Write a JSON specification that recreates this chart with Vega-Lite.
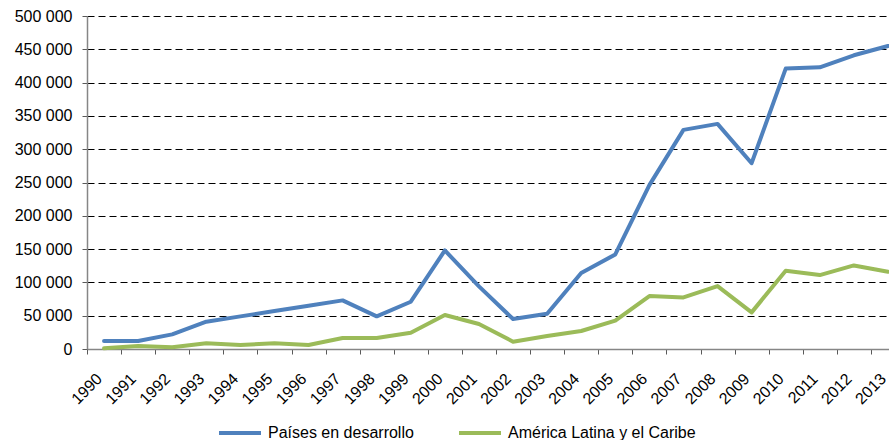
{
  "$schema": "https://vega.github.io/schema/vega-lite/v6.json",
  "width": 802,
  "height": 333,
  "autosize": {"type": "none"},
  "padding": {"left": 87, "top": 16, "right": 0, "bottom": 91},
  "background": "white",
  "config": {
    "view": {"stroke": null},
    "font": "Liberation Sans",
    "axis": {"labelFont": "Liberation Sans", "labelFontSize": 16, "labelColor": "#000000", "title": null},
    "legend": {"labelFont": "Liberation Sans", "labelFontSize": 16, "labelColor": "#000000"}
  },
  "data": {
    "values": [
      {"year": "1990", "serie": "Países en desarrollo", "value": 12000},
      {"year": "1991", "serie": "Países en desarrollo", "value": 12000},
      {"year": "1992", "serie": "Países en desarrollo", "value": 22000},
      {"year": "1993", "serie": "Países en desarrollo", "value": 41000},
      {"year": "1994", "serie": "Países en desarrollo", "value": 49000},
      {"year": "1995", "serie": "Países en desarrollo", "value": 57000},
      {"year": "1996", "serie": "Países en desarrollo", "value": 65000},
      {"year": "1997", "serie": "Países en desarrollo", "value": 73000},
      {"year": "1998", "serie": "Países en desarrollo", "value": 49000},
      {"year": "1999", "serie": "Países en desarrollo", "value": 71000},
      {"year": "2000", "serie": "Países en desarrollo", "value": 148000},
      {"year": "2001", "serie": "Países en desarrollo", "value": 94000},
      {"year": "2002", "serie": "Países en desarrollo", "value": 45000},
      {"year": "2003", "serie": "Países en desarrollo", "value": 53000},
      {"year": "2004", "serie": "Países en desarrollo", "value": 114000},
      {"year": "2005", "serie": "Países en desarrollo", "value": 142000},
      {"year": "2006", "serie": "Países en desarrollo", "value": 246000},
      {"year": "2007", "serie": "Países en desarrollo", "value": 329000},
      {"year": "2008", "serie": "Países en desarrollo", "value": 338000},
      {"year": "2009", "serie": "Países en desarrollo", "value": 279000},
      {"year": "2010", "serie": "Países en desarrollo", "value": 421000},
      {"year": "2011", "serie": "Países en desarrollo", "value": 423000},
      {"year": "2012", "serie": "Países en desarrollo", "value": 441000},
      {"year": "2013", "serie": "Países en desarrollo", "value": 455000},
      {"year": "1990", "serie": "América Latina y el Caribe", "value": 1000},
      {"year": "1991", "serie": "América Latina y el Caribe", "value": 4500},
      {"year": "1992", "serie": "América Latina y el Caribe", "value": 2500},
      {"year": "1993", "serie": "América Latina y el Caribe", "value": 8500},
      {"year": "1994", "serie": "América Latina y el Caribe", "value": 6000},
      {"year": "1995", "serie": "América Latina y el Caribe", "value": 8500},
      {"year": "1996", "serie": "América Latina y el Caribe", "value": 6000},
      {"year": "1997", "serie": "América Latina y el Caribe", "value": 16500},
      {"year": "1998", "serie": "América Latina y el Caribe", "value": 16500},
      {"year": "1999", "serie": "América Latina y el Caribe", "value": 24500},
      {"year": "2000", "serie": "América Latina y el Caribe", "value": 51000},
      {"year": "2001", "serie": "América Latina y el Caribe", "value": 37500},
      {"year": "2002", "serie": "América Latina y el Caribe", "value": 11000},
      {"year": "2003", "serie": "América Latina y el Caribe", "value": 19500},
      {"year": "2004", "serie": "América Latina y el Caribe", "value": 27000},
      {"year": "2005", "serie": "América Latina y el Caribe", "value": 42500},
      {"year": "2006", "serie": "América Latina y el Caribe", "value": 79500},
      {"year": "2007", "serie": "América Latina y el Caribe", "value": 77500},
      {"year": "2008", "serie": "América Latina y el Caribe", "value": 94500},
      {"year": "2009", "serie": "América Latina y el Caribe", "value": 55000},
      {"year": "2010", "serie": "América Latina y el Caribe", "value": 117500},
      {"year": "2011", "serie": "América Latina y el Caribe", "value": 111000},
      {"year": "2012", "serie": "América Latina y el Caribe", "value": 125500},
      {"year": "2013", "serie": "América Latina y el Caribe", "value": 116000}
    ]
  },
  "mark": {"type": "line", "strokeWidth": 4, "strokeCap": "round", "strokeJoin": "round"},
  "encoding": {
    "x": {
      "field": "year",
      "type": "ordinal",
      "scale": {"type": "band", "range": [0, 818], "paddingInner": 0, "paddingOuter": 0},
      "axis": {
        "labelAngle": -45,
        "labelAlign": "right",
        "labelBaseline": "middle",
        "labelOffset": -5,
        "tickBand": "extent",
        "tickSize": 5,
        "tickColor": "#595959",
        "domainColor": "#868686",
        "domainWidth": 1.5,
        "labelPadding": 22,
        "grid": false
      }
    },
    "y": {
      "field": "value",
      "type": "quantitative",
      "scale": {"domain": [0, 500000], "nice": false},
      "axis": {
        "values": [0, 50000, 100000, 150000, 200000, 250000, 300000, 350000, 400000, 450000, 500000],
        "labelExpr": "replace(format(datum.value, ','), ',', ' ')",
        "tickSize": 5,
        "tickColor": "#595959",
        "domainColor": "#868686",
        "domainWidth": 1.5,
        "labelPadding": 10,
        "grid": true,
        "gridColor": "#000000",
        "gridDash": [7, 4],
        "gridWidth": 1
      }
    },
    "color": {
      "field": "serie",
      "type": "nominal",
      "scale": {
        "domain": ["Países en desarrollo", "América Latina y el Caribe"],
        "range": ["#4F81BD", "#9BBB59"]
      },
      "legend": {
        "title": null,
        "orient": "none",
        "direction": "horizontal",
        "legendX": 130,
        "legendY": 394,
        "padding": 0,
        "symbolType": "stroke",
        "symbolSize": 1764,
        "symbolStrokeWidth": 4,
        "labelOffset": 5,
        "labelLimit": 400,
        "columnPadding": 37
      }
    }
  }
}
